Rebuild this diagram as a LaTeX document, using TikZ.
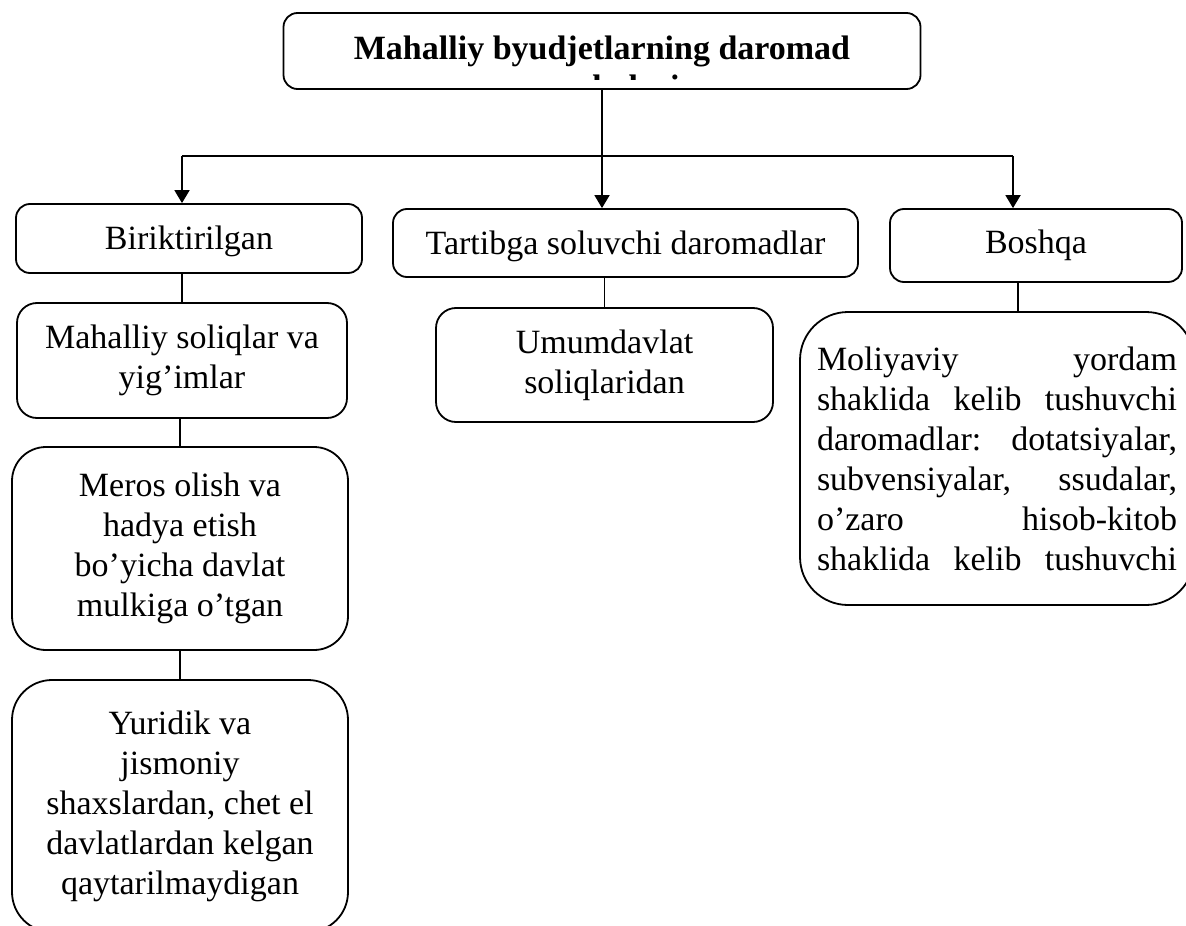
\documentclass[tikz,border=0pt]{standalone}
\usepackage{fontspec}
\setmainfont{Liberation Serif}
\usetikzlibrary{arrows.meta}
\tikzstyle{hb}=[shape=rectangle,
                draw=black,
                line width=0.9pt,
                align=center,
                inner sep=0pt,
                font=\fontsize{17}{20}\selectfont]
\newcommand{\jline}[1]{\makebox[180pt][s]{#1}}

\begin{document}
\begin{tikzpicture}[x=0.5pt,y=-0.5pt,>={Triangle[length=6.5pt,width=7.5pt]},line width=0.9pt]
\useasboundingbox (0,0) rectangle (1186,925);

% title
\node[hb, minimum width=318.5pt, minimum height=38pt, rounded corners=7pt,
      font=\fontsize{17}{20}\selectfont\bfseries] (title) at (602,51)
      {Mahalliy byudjetlarning daromad};
\begin{scope}
\clip (283,14) rectangle (921,80);
\node[anchor=base, inner sep=0pt, font=\fontsize{17}{20}\selectfont\bfseries] (sub) at (604,99) {manbalari};
\end{scope}

% first level
\node[hb, minimum width=173pt, minimum height=34.5pt, rounded corners=7pt,
      text height=14pt, text depth=3.5pt] (bir) at (189,238.5) {Biriktirilgan};
\node[hb, minimum width=232.5pt, minimum height=34pt, rounded corners=7pt,
      text height=15pt, text depth=3.5pt] (tart) at (625.5,243) {Tartibga soluvchi daromadlar};
\node[hb, minimum width=146pt, minimum height=36.5pt, rounded corners=7pt] (bosh) at (1036,245.5) {Boshqa};

% left column
\node[hb, minimum width=165pt, minimum height=57.5pt, rounded corners=10pt] (mah) at (182,360.5)
      {Mahalliy soliqlar va\\yig’imlar};
\node[hb, minimum width=168pt, minimum height=101.5pt, rounded corners=17pt] (mer) at (180,548.5)
      {Meros olish va\\hadya etish\\bo’yicha davlat\\mulkiga o’tgan};
\node[hb, minimum width=168pt, minimum height=126pt, rounded corners=20pt] (yur) at (180,806)
      {Yuridik va\\jismoniy\\shaxslardan, chet el\\davlatlardan kelgan\\qaytarilmaydigan};

% middle column
\node[hb, minimum width=168.5pt, minimum height=57pt, rounded corners=10pt] (umum) at (604.5,365)
      {Umumdavlat\\soliqlaridan};

% right column
\node[hb, align=left, text width=180pt, inner xsep=8.5pt, minimum height=146.5pt, rounded corners=24pt] (mol) at (997,458.5)
      {\jline{Moliyaviy\hfill yordam}\\
       \jline{shaklida\hfill kelib\hfill tushuvchi}\\
       \jline{daromadlar:\hfill dotatsiyalar,}\\
       \jline{subvensiyalar,\hfill ssudalar,}\\
       \jline{o’zaro\hfill hisob-kitob}\\
       \jline{shaklida\hfill kelib\hfill tushuvchi}};

% connectors
\coordinate (jl) at (182,156);
\coordinate (jr) at (1013,156);
\coordinate (jb) at (1018,0);
\draw (title.south) -- (title.south |- jl);
\draw (jl) -- (jr);
\draw[->] (jl) -- (jl |- bir.north);
\draw[->] (title.south |- jl) -- (title.south |- tart.north);
\draw[->] (jr) -- (jr |- bosh.north);
\draw (mah.north |- bir.south) -- (mah.north);
\draw (mer.north |- mah.south) -- (mer.north);
\draw (yur.north |- mer.south) -- (yur.north);
\draw (umum.north |- tart.south) -- (umum.north);
\draw (jb |- bosh.south) -- (jb |- mol.north);

\end{tikzpicture}
\end{document}
